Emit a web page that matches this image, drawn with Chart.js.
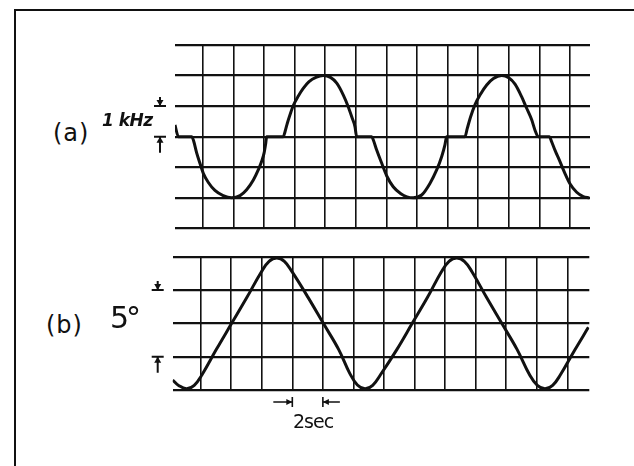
<!DOCTYPE html>
<html>
<head>
<meta charset="utf-8">
<script src="https://cdn.jsdelivr.net/npm/chart.js@4.4.1/dist/chart.umd.min.js"></script>
<style>
  body { margin:0; background:#fff; width:634px; height:466px; overflow:hidden; position:relative;
         font-family:"DejaVu Sans", sans-serif; color:#111; }
  #frame { position:absolute; left:14px; top:9px; width:640px; height:480px;
           border-top:2px solid #111; border-left:2px solid #111; }
  .box { position:absolute; }
  .lbl { position:absolute; white-space:nowrap; line-height:1; }
</style>
</head>
<body>
<div id="frame"></div>
<div class="box" style="left:140px;top:30px;width:465px;height:215px"><canvas id="traceA"></canvas></div>
<div class="box" style="left:140px;top:240px;width:465px;height:185px"><canvas id="traceB"></canvas></div>

<div class="lbl" style="left:53px;top:121px;font-size:24px;letter-spacing:1px">(a)</div>
<div class="lbl" style="left:102px;top:112px;font-size:17px;font-style:italic;font-weight:bold;letter-spacing:-0.5px">1 kHz</div>
<div class="lbl" style="left:46px;top:313px;font-size:24px;letter-spacing:1px">(b)</div>
<div class="lbl" style="left:110px;top:303px;font-size:30px;letter-spacing:-3px">5°</div>
<div class="lbl" style="left:293px;top:412px;font-size:19px;letter-spacing:-1px">2sec</div>

<script>
// time axis in seconds (one division = 2 sec)
var timeTicks = [0, 2, 4, 6, 8, 10, 12, 14, 16, 18, 20, 22, 24];

// trace (a) 1 kHz, values in divisions
var timeA = [-1.81,-1.59,
             -0.72,-0.61,-0.39,-0.18,0.04,0.37,0.80,1.34,1.89,2.44,2.87,3.31,3.63,3.86,4.01,4.12,4.18,
             5.27,5.38,5.53,5.70,5.92,6.25,6.57,6.95,7.40,7.88,8.35,8.76,9.19,9.51,9.74,9.95,10.06,
             11.04,11.15,11.37,11.70,12.02,12.45,12.95,13.35,13.76,14.31,14.85,15.29,15.62,15.83,15.94,
             17.14,17.29,17.51,17.79,18.12,18.56,19.00,19.54,20.00,20.41,20.84,21.17,21.50,21.71,21.93,
             22.65,22.80,23.02,23.35,23.67,24.00,24.44,24.87,25.26];
var traceA = [0.38,0,
              0,-0.11,-0.54,-0.87,-1.20,-1.50,-1.76,-1.93,-2.0,-1.93,-1.74,-1.42,-1.09,-0.80,-0.54,-0.22,0,
              0,0.16,0.44,0.71,1.02,1.33,1.58,1.80,1.94,2.0,1.94,1.75,1.36,0.98,0.65,0.33,0,
              0,-0.11,-0.44,-0.87,-1.28,-1.64,-1.87,-1.97,-2.0,-1.91,-1.53,-1.09,-0.65,-0.27,0,
              0,0.27,0.65,1.04,1.36,1.69,1.90,2.0,1.93,1.72,1.31,0.93,0.55,0.22,0,
              0,-0.16,-0.44,-0.82,-1.20,-1.54,-1.82,-1.96,-2.0];

// trace (b) 5 deg
var timeB = [-1.83,-1.42,-0.92,-0.42,0.08,1.03,2.03,3.03,3.98,4.48,4.98,
             5.48,5.98,7.03,8.03,9.03,9.76,10.26,10.76,
             11.26,11.76,12.85,13.85,14.85,15.76,16.26,16.76,
             17.26,17.76,18.71,19.71,20.71,21.54,22.04,22.54,
             23.04,23.54,24.49,25.38];
var traceB = [-1.70,-1.87,-1.96,-1.86,-1.55,-0.78,0,0.78,1.55,1.86,1.96,
              1.86,1.55,0.78,0,-0.78,-1.50,-1.85,-1.96,
              -1.86,-1.55,-0.78,0,0.78,1.55,1.86,1.96,
              1.86,1.55,0.78,0,-0.78,-1.55,-1.86,-1.96,
              -1.86,-1.55,-0.80,-0.12];

var ink = '#111';

// little arrow marks left of the grid and the "2sec" span under it
var markers = {
    id: 'markers',
    afterDraw: function(chart, args, opts) {
        var ctx = chart.ctx;
        var area = chart.chartArea;
        var ys = chart.scales.y, xs = chart.scales.x;
        var mx = area.left - 15;
        ctx.save();
        ctx.strokeStyle = ink;
        ctx.fillStyle = ink;
        ctx.lineWidth = 2;
        (opts.levels || []).forEach(function(lv, i) {
            var py = ys.getPixelForValue(lv);
            var dir = i === 0 ? -1 : 1;   // first one comes from above
            var len = i === 0 ? 9 : 16;
            ctx.beginPath();
            ctx.moveTo(mx - 6, py); ctx.lineTo(mx + 6, py);
            ctx.moveTo(mx, py); ctx.lineTo(mx, py + dir * len);
            ctx.stroke();
            ctx.beginPath();
            ctx.moveTo(mx, py);
            ctx.lineTo(mx - 3.5, py + dir * 6);
            ctx.lineTo(mx + 3.5, py + dir * 6);
            ctx.closePath();
            ctx.fill();
        });
        if (opts.span) {
            var sy = area.bottom + 12;
            var x1 = xs.getPixelForValue(opts.span[0]);
            var x2 = xs.getPixelForValue(opts.span[1]);
            ctx.lineWidth = 1.6;
            ctx.beginPath();
            ctx.moveTo(x1 - 19, sy); ctx.lineTo(x1, sy);
            ctx.moveTo(x1, sy - 5); ctx.lineTo(x1, sy + 5);
            ctx.moveTo(x2, sy); ctx.lineTo(x2 + 17, sy);
            ctx.moveTo(x2, sy - 5); ctx.lineTo(x2, sy + 5);
            ctx.stroke();
            ctx.beginPath();
            ctx.moveTo(x1, sy); ctx.lineTo(x1 - 6, sy - 3); ctx.lineTo(x1 - 6, sy + 3); ctx.closePath();
            ctx.moveTo(x2, sy); ctx.lineTo(x2 + 6, sy - 3); ctx.lineTo(x2 + 6, sy + 3); ctx.closePath();
            ctx.fill();
        }
        ctx.restore();
    }
};

function showTrace(id, times, values, cfg) {
    var pts = times.map(function(t, i) { return { x: t, y: values[i] }; });
    new Chart(document.getElementById(id), {
        type: 'line',
        data: {
            datasets: [{
                data: pts,
                borderColor: ink,
                borderWidth: 3,
                pointRadius: 0,
                cubicInterpolationMode: cfg.mode,
                tension: 0.4,
                fill: false
            }]
        },
        options: {
            responsive: true,
            maintainAspectRatio: false,
            animation: false,
            layout: { padding: cfg.padding },
            plugins: {
                legend: { display: false },
                tooltip: { enabled: false },
                markers: { levels: cfg.levels, span: cfg.span }
            },
            scales: {
                x: {
                    type: 'linear',
                    min: cfg.xMin, max: cfg.xMax,
                    afterBuildTicks: function(axis) {
                        axis.ticks = timeTicks.map(function(v) { return { value: v }; });
                    },
                    ticks: { display: false },
                    border: { display: false },
                    grid: { color: ink, lineWidth: 1.6, drawTicks: false }
                },
                y: {
                    min: -cfg.half, max: cfg.half,
                    ticks: { display: false, stepSize: 1 },
                    border: { display: false },
                    grid: { color: ink, lineWidth: 2.3, drawTicks: false }
                }
            }
        },
        plugins: [markers]
    });
}

// (a) has flat steps between the humps, monotone keeps them flat
showTrace('traceA', timeA, traceA, {
    xMin: -1.81, xMax: 25.31, half: 3, mode: 'monotone',
    padding: { left: 35, right: 15, top: 15, bottom: 16.7 },
    levels: [1, 0]
});
showTrace('traceB', timeB, traceB, {
    xMin: -1.83, xMax: 25.44, half: 2, mode: 'default',
    padding: { left: 32.7, right: 15.7, top: 16.7, bottom: 35 },
    levels: [1, -1],
    span: [6, 8]
});
</script>
</body>
</html>
